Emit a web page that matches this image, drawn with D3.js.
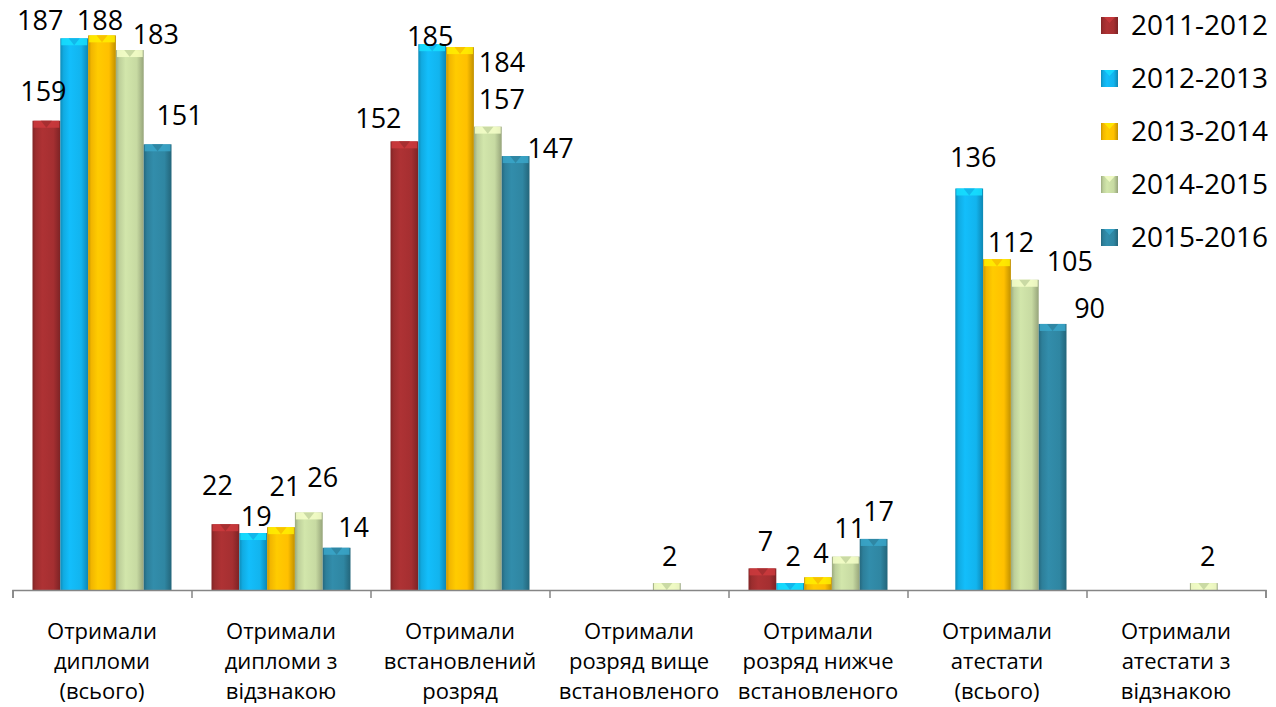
<!DOCTYPE html>
<html>
<head>
<meta charset="utf-8">
<script src="https://cdn.jsdelivr.net/npm/d3@7"></script>
<style>
  html, body { margin: 0; padding: 0; background: #fff; }
  svg { display: block; font-family: 'Open Sans', 'Noto Sans', sans-serif; }
</style>
</head>
<body>
<svg id="chart" width="1276" height="707"></svg>
<script>
const categories = [
  ['Отримали', 'дипломи', '(всього)'],
  ['Отримали', 'дипломи з', 'відзнакою'],
  ['Отримали', 'встановлений', 'розряд'],
  ['Отримали', 'розряд вище', 'встановленого'],
  ['Отримали', 'розряд нижче', 'встановленого'],
  ['Отримали', 'атестати', '(всього)'],
  ['Отримали', 'атестати з', 'відзнакою']
]
const seriesNames = ['2011-2012', '2012-2013', '2013-2014', '2014-2015', '2015-2016']
const s2011 = [159, 22, 152, null, 7, null, null]
const s2012 = [187, 19, 185, null, 2, 136, null]
const s2013 = [188, 21, 184, null, 4, 112, null]
const s2014 = [183, 26, 157, 2, 11, 105, 2]
const s2015 = [151, 14, 147, null, 17, 90, null]
const seriesValues = [s2011, s2012, s2013, s2014, s2015]

// label offsets from the bar top, Excel moved them around to avoid overlap
const labelDx = [
  [-3, -34, -2, 26, 22],
  [-8, 3, 4, 14, 17],
  [-26, -2, 42, 14, 35],
  [0, 0, 0, 3, 0],
  [3, 3, 3, 4, 5],
  [0, 4, 14, 45, 37],
  [0, 0, 0, 4, 0]
]
const labelDy = [
  [-29, -18, -15, -16, -29],
  [-39, -17, -41, -35, -20],
  [-23, -8, 15, -27, -8],
  [0, 0, 0, -27, 0],
  [-27, -27, -24, -28, -28],
  [0, -31, -17, -18, -16],
  [0, 0, 0, -27, 0]
]

const colors = ['#A52F31', '#12B4EE', '#FFC000', '#C7DAA2', '#2F86A2']

const svg = d3.select('#chart')
const defs = svg.append('defs')

colors.forEach((c, i) => {
  const base = d3.color(c)
  const g = defs.append('linearGradient')
    .attr('id', 'grad' + i)
    .attr('x1', '0%').attr('x2', '100%').attr('y1', '0%').attr('y2', '0%')
  g.append('stop').attr('offset', '0%').attr('stop-color', base.darker(0.7))
  g.append('stop').attr('offset', '12%').attr('stop-color', base.darker(0.15))
  g.append('stop').attr('offset', '35%').attr('stop-color', base.brighter(0.15))
  g.append('stop').attr('offset', '75%').attr('stop-color', base)
  g.append('stop').attr('offset', '100%').attr('stop-color', base.darker(0.8))
})

const plotLeft = 12.5
const plotRight = 1265.5
const baseY = 589

const x0 = d3.scaleBand()
  .domain(d3.range(categories.length))
  .range([plotLeft, plotRight])
  .padding(0)

const x1 = d3.scaleBand()
  .domain(d3.range(seriesNames.length))
  .range([20, x0.bandwidth() - 20])
  .padding(0)

const y = d3.scaleLinear().domain([0, 200]).range([baseY, 0])

const rows = []
categories.forEach((cat, ci) => {
  seriesValues.forEach((vals, si) => {
    if (vals[ci] != null) rows.push({ ci, si, value: vals[ci] })
  })
})

const bars = svg.append('g').selectAll('g.bar')
  .data(rows)
  .join('g')
  .attr('class', 'bar')
  .attr('transform', d => `translate(${x0(d.ci) + x1(d.si)},0)`)

bars.append('rect')
  .attr('x', 0)
  .attr('y', d => y(d.value))
  .attr('width', x1.bandwidth())
  .attr('height', d => baseY + 1 - y(d.value))
  .attr('fill', d => `url(#grad${d.si})`)

// bevelled top
bars.append('rect')
  .attr('x', 1)
  .attr('y', d => y(d.value))
  .attr('width', x1.bandwidth() - 2)
  .attr('height', d => Math.min(7, baseY + 1 - y(d.value)))
  .attr('fill', d => d3.color(colors[d.si]).brighter(0.6))
  .attr('opacity', 0.85)

bars.append('path')
  .attr('d', d => {
    const t = y(d.value)
    const w = x1.bandwidth()
    const h = Math.min(7, baseY + 1 - t)
    return `M${w * 0.3},${t} L${w * 0.7},${t} L${w / 2},${t + h} Z`
  })
  .attr('fill', d => d3.color(colors[d.si]).darker(0.1))
  .attr('opacity', 0.8)

// axis with ticks between categories
const xb = d3.scaleLinear().domain([0, categories.length]).range([plotLeft, plotRight])
const axis = svg.append('g')
  .attr('transform', `translate(0,${baseY + 1})`)
  .call(d3.axisBottom(xb).tickValues(d3.range(categories.length + 1)).tickSize(8).tickFormat(''))
axis.select('.domain').attr('stroke', '#868686').attr('stroke-width', 1.5)
axis.selectAll('.tick line').attr('stroke', '#868686').attr('stroke-width', 1.5)

// category labels
const catG = svg.append('g')
categories.forEach((lines, ci) => {
  const t = catG.append('text')
    .attr('text-anchor', 'middle')
    .attr('font-size', 22)
    .attr('fill', '#000')
  lines.forEach((ln, li) => {
    t.append('tspan')
      .attr('x', x0(ci) + x0.bandwidth() / 2)
      .attr('y', 639 + li * 30)
      .text(ln)
  })
})

// value labels
svg.append('g').selectAll('text')
  .data(rows)
  .join('text')
  .attr('x', d => x0(d.ci) + x1(d.si) + x1.bandwidth() / 2 + labelDx[d.ci][d.si])
  .attr('y', d => y(d.value) + labelDy[d.ci][d.si])
  .attr('dy', '0.36em')
  .attr('text-anchor', 'middle')
  .attr('font-size', 27)
  .attr('fill', '#000')
  .text(d => d.value)

// legend
const legend = svg.append('g')
  .selectAll('g')
  .data(seriesNames)
  .join('g')
  .attr('transform', (d, i) => `translate(1101,${25 + i * 53})`)

legend.append('rect')
  .attr('x', 0).attr('y', -8)
  .attr('width', 17).attr('height', 17)
  .attr('fill', (d, i) => `url(#grad${i})`)
legend.append('path')
  .attr('d', 'M3,-8 L14,-8 L8.5,-2 Z')
  .attr('fill', (d, i) => d3.color(colors[i]).brighter(0.6))
  .attr('opacity', 0.8)

legend.append('text')
  .attr('x', 30)
  .attr('y', 0)
  .attr('dy', '0.36em')
  .attr('font-size', 28)
  .attr('fill', '#000')
  .text(d => d)
</script>
</body>
</html>
